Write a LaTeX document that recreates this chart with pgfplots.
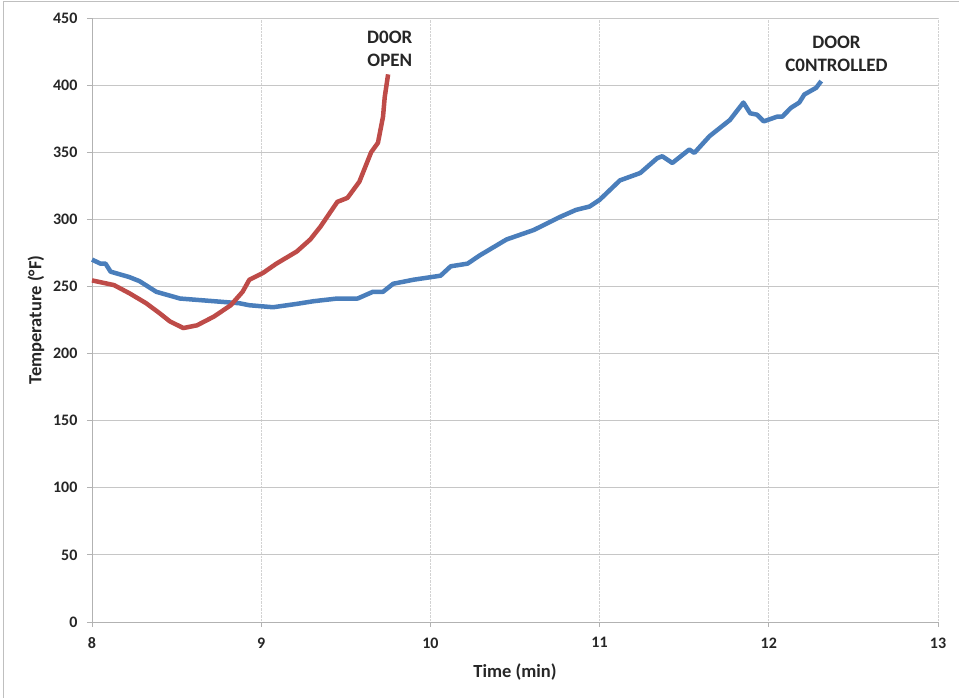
\documentclass[border=0pt]{standalone}
\usepackage{pgfplots}
\pgfplotsset{compat=1.18}
\usepackage{fontspec}
\setmainfont{Carlito}
\definecolor{doorblue}{RGB}{74,126,187}
\definecolor{doorred}{RGB}{190,75,72}
\begin{document}
\begin{tikzpicture}
  \useasboundingbox (0,0) rectangle (959pt,698pt);
  \draw[gray!50, line width=1pt] (3pt,0) -- (3pt,696pt) -- (959pt,696pt);
  \begin{axis}[
      at={(92pt,76pt)}, anchor=south west,
      scale only axis, width=846pt, height=604pt,
      xmin=8, xmax=13, ymin=0, ymax=450,
      xtick={8,...,13}, ytick={0,50,...,450},
      axis line style={gray!60, line width=0.8pt},
      axis lines=left,
      axis x line*=bottom, axis y line*=left,
      separate axis lines,
      x axis line style={-}, y axis line style={-},
      tick align=outside, major tick length=5pt,
      tick style={gray!60, line width=0.8pt},
      ymajorgrids, xmajorgrids,
      y grid style={gray!45, line width=0.9pt},
      x grid style={gray!35, densely dotted, line width=0.7pt},
      /pgf/number format/assume math mode=true,
      ticklabel style={font=\fontsize{16}{19}\selectfont\bfseries, text=black!85},
      xticklabel style={yshift=-7pt},
      yticklabel style={xshift=-6pt},
      xlabel={Time (min)}, ylabel={Temperature (°F)},
      label style={font=\fontsize{18.5}{22}\selectfont\bfseries, text=black!85},
      xlabel style={yshift=-8pt},
      ylabel style={yshift=2pt},
      clip=false,
    ]

    % door controlled
    \addplot[doorblue, line width=4.5pt, line join=round] coordinates {
        (8.00,270) (8.05,267) (8.08,267) (8.11,261) (8.22,257) (8.28,254)
        (8.38,246) (8.52,241) (8.72,239) (8.87,237.5) (8.93,236) (9.07,234.5)
        (9.21,237) (9.31,239) (9.45,241) (9.57,241) (9.66,246) (9.72,246)
        (9.78,252) (9.90,255) (10.06,258) (10.12,265) (10.22,267) (10.29,273)
        (10.45,285) (10.61,292) (10.77,302) (10.86,307) (10.94,309.5) (11.00,314.5)
        (11.12,329) (11.24,334.5) (11.34,345.5) (11.37,347) (11.43,342) (11.53,352)
        (11.56,349.5) (11.65,362) (11.77,374) (11.85,387) (11.89,379) (11.93,378)
        (11.97,373) (12.05,376.5) (12.08,376.5) (12.13,383) (12.18,387) (12.21,393)
        (12.28,398) (12.31,403)
      };

    % door open
    \addplot[doorred, line width=4.5pt, line join=round] coordinates {
        (8.00,254.5) (8.13,251) (8.22,245) (8.32,237.5) (8.40,230) (8.46,224)
        (8.54,219) (8.62,221) (8.72,227.5) (8.82,236) (8.89,246) (8.93,255)
        (9.01,260) (9.09,267) (9.21,276) (9.29,285) (9.35,294.5) (9.45,313)
        (9.51,316) (9.58,328) (9.65,350) (9.69,357) (9.72,376.5) (9.73,391)
        (9.75,408)
      };

    \node[align=center, font=\fontsize{19}{23}\selectfont\bfseries, text=black!85]
      at (axis cs:9.76,427) {D0OR\\OPEN};
    \node[align=center, font=\fontsize{19}{23}\selectfont\bfseries, text=black!85]
      at (axis cs:12.40,423) {DOOR\\C0NTROLLED};
  \end{axis}
\end{tikzpicture}
\end{document}
